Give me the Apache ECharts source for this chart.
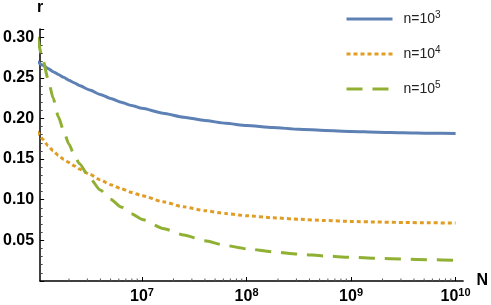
<!DOCTYPE html>
<html><head><meta charset="utf-8">
<script src="https://cdn.jsdelivr.net/npm/echarts@6/dist/echarts.min.js"></script>
<style>html,body{margin:0;padding:0;background:#fff}#c{width:491px;height:305px}</style>
</head><body><div id="c"></div>
<script>
// log10(N) sample positions
const logN = [6.0, 6.05, 6.1, 6.15, 6.2, 6.25, 6.3, 6.35, 6.4, 6.5, 6.6, 6.7, 6.8, 6.9, 7.0, 7.2, 7.4, 7.6, 7.8, 8.0, 8.25, 8.5, 8.75, 9.0, 9.25, 9.5, 9.75, 10.0];
// r for n = 10^3 (solid blue)
const r_n3 = [0.270, 0.2655, 0.2615, 0.2575, 0.254, 0.2505, 0.247, 0.244, 0.2405, 0.235, 0.2295, 0.2245, 0.2200, 0.216, 0.2125, 0.2065, 0.2015, 0.1975, 0.194, 0.1913, 0.1888, 0.1867, 0.1852, 0.184, 0.1831, 0.1824, 0.1818, 0.1814];
// r for n = 10^4 (dotted orange)
const r_n4 = [0.184, 0.1745, 0.1665, 0.1600, 0.1545, 0.1498, 0.1458, 0.1418, 0.1378, 0.1312, 0.1245, 0.1185, 0.1135, 0.1090, 0.1050, 0.0975, 0.0912, 0.0865, 0.0830, 0.0803, 0.0778, 0.0759, 0.0744, 0.0733, 0.0725, 0.0720, 0.0716, 0.0713];
// r for n = 10^5 (dashed green)
const r_n5 = [0.300, 0.273, 0.2488, 0.2247, 0.2020, 0.1845, 0.1685, 0.1555, 0.1445, 0.1268, 0.1118, 0.1007, 0.0910, 0.0826, 0.0758, 0.0647, 0.0567, 0.0494, 0.0437, 0.0397, 0.0359, 0.0330, 0.0308, 0.0291, 0.0278, 0.0269, 0.0261, 0.0256];
const seriesNames = ['n=10^3', 'n=10^4', 'n=10^5'];
const xTickExps = [7, 8, 9, 10];
const yTickValues = [0.05, 0.10, 0.15, 0.20, 0.25, 0.30];

const xMin = 1.06e6, xMax = 1.18e10;
const minorX = [];
for (let d = 6; d <= 9; d++) for (let m = 2; m <= 9; m++) { const v = m * Math.pow(10, d); if (v > xMin && v < xMax) minorX.push([v, 0]); }

const FONT = "'Liberation Sans', Arial, sans-serif";
const toPairs = arr => logN.map((l, i) => [Math.pow(10, l), arr[i]]);
const colors = ['#5E81B5', '#E19C24', '#8FB032'];
const lineTypes = ['solid', [4, 3], [16, 10]];
const vals = [r_n3, r_n4, r_n5];

const chart = echarts.init(document.getElementById('c'), null, {renderer: 'canvas'});
const option = {
  animation: false,
  backgroundColor: '#fff',
  grid: {left: 40, right: 24.5, top: 25, bottom: 24, containLabel: false},
  legend: {
    data: seriesNames, orient: 'vertical', left: 340, top: 5,
    itemWidth: 46, itemHeight: 14, itemGap: 19,
    itemStyle: {color: 'rgba(0,0,0,0)', borderColor: 'rgba(0,0,0,0)', borderWidth: 0, opacity: 0},
    lineStyle: {width: 3},
    formatter: name => { const p = name.split('^'); return '{b|' + p[0] + '}{s|' + p[1] + '}'; },
    textStyle: {
      fontFamily: FONT, fontSize: 14, color: '#222',
      rich: {
        b: {fontFamily: FONT, fontSize: 14, color: '#222', lineHeight: 18, padding: [0, 0, 0, 6]},
        s: {fontFamily: FONT, fontSize: 10, color: '#222', lineHeight: 10, verticalAlign: 'top'}
      }
    }
  },
  xAxis: {
    type: 'log', min: xMin, max: xMax,
    name: 'N', nameLocation: 'end', nameGap: 10,
    nameTextStyle: {fontFamily: FONT, fontSize: 16, fontWeight: 'bold', color: '#000'},
    axisLine: {show: true, lineStyle: {color: '#000', width: 1.5}},
    axisTick: {show: true, inside: true, length: 4, lineStyle: {color: '#000', width: 1}},
    splitLine: {show: false},
    axisLabel: {
      margin: 6, showMinLabel: false, showMaxLabel: false,
      formatter: v => {
        const e = Math.round(Math.log10(v));
        if (Math.abs(Math.log10(v) - e) > 1e-6 || xTickExps.indexOf(e) < 0) return '';
        return '{b|10}{s|' + e + '}';
      },
      rich: {
        b: {fontFamily: FONT, fontSize: 16, fontWeight: 'bold', color: '#000', lineHeight: 20},
        s: {fontFamily: FONT, fontSize: 11, fontWeight: 'bold', color: '#000', lineHeight: 11, verticalAlign: 'top'}
      }
    }
  },
  yAxis: {
    type: 'value', min: 0, max: 0.31, interval: 0.05,
    name: 'r', nameLocation: 'end', nameGap: 13,
    nameTextStyle: {fontFamily: FONT, fontSize: 16, fontWeight: 'bold', color: '#000'},
    axisLine: {show: true, lineStyle: {color: '#000', width: 1.5}},
    axisTick: {show: true, inside: true, length: 4, lineStyle: {color: '#000', width: 1}},
    minorTick: {show: true, splitNumber: 5, length: 2.5, lineStyle: {color: '#444', width: 1}},
    splitLine: {show: false},
    axisLabel: {
      margin: 6, showMinLabel: false, showMaxLabel: false,
      fontFamily: FONT, fontSize: 16, fontWeight: 'bold', color: '#000',
      formatter: v => (yTickValues.some(t => Math.abs(t - v) < 1e-9) ? v.toFixed(2) : '')
    }
  },
  series: vals.map((arr, i) => ({
    name: seriesNames[i], type: 'line', data: toPairs(arr),
    symbol: 'none', showSymbol: false, smooth: 0.2, smoothMonotone: 'x', clip: false,
    lineStyle: {color: colors[i], width: 3, type: lineTypes[i], cap: 'butt'},
    itemStyle: {color: colors[i]}, z: 3
  })).concat([{
    name: 'minorTicksX', type: 'custom', silent: true, data: minorX, z: 1,
    renderItem: (params, api) => {
      const p = api.coord([api.value(0), 0]);
      return {type: 'line', shape: {x1: p[0], y1: p[1], x2: p[0], y2: p[1] - 2.5}, style: {stroke: '#555', lineWidth: 1}};
    }
  }])
};
chart.setOption(option);
</script></body></html>
